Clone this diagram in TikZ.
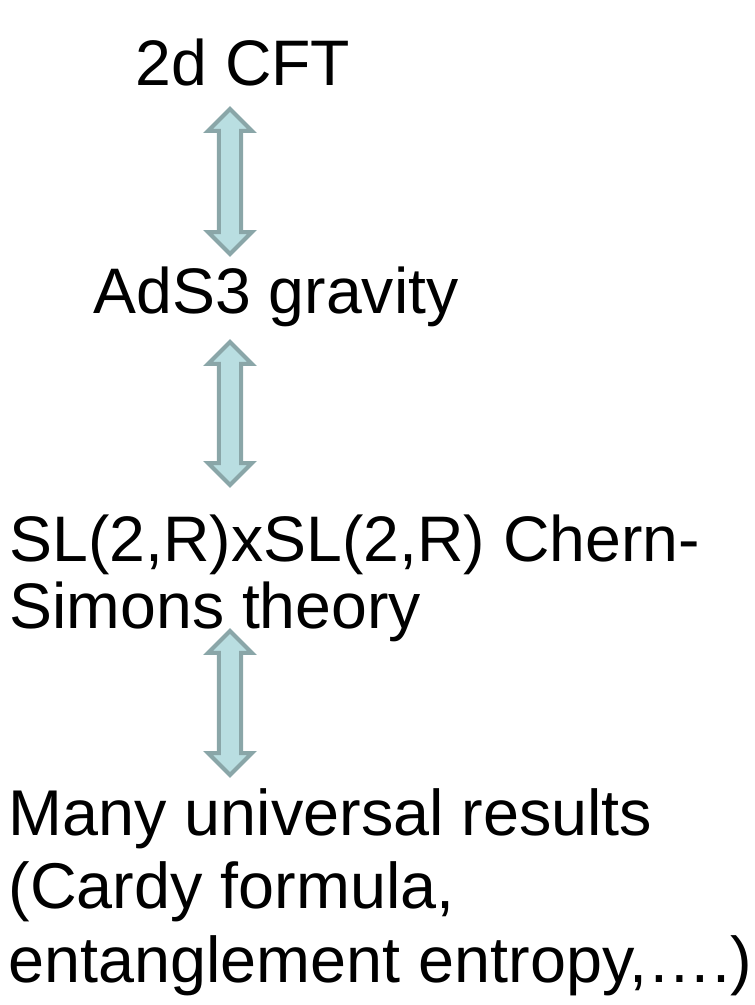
\documentclass[tikz,border=0pt]{standalone}
\usepackage{fontspec}
\setmainfont{Liberation Sans}
\usetikzlibrary{shapes.arrows}
\definecolor{arrfill}{RGB}{185,222,225}
\definecolor{arrline}{RGB}{138,166,168}
\tikzset{
  term/.style={anchor=base west, inner sep=0pt, align=left, font=\fontsize{18.3pt}{18.8pt}\selectfont},
  bigterm/.style={term, font=\fontsize{18.4pt}{20.8pt}\selectfont},
  dualarr/.style={double arrow, draw=arrline, fill=arrfill, line width=0.04cm, rotate=90, minimum width=0.4cm, double arrow head extend=0.11cm, double arrow tip angle=90, inner xsep=0pt, inner ysep=0.09cm}
}
\begin{document}
\begin{tikzpicture}[x=0.01cm, y=0.01cm]
\useasboundingbox (0,0) rectangle (755,-1005);
\node[term] (cft) at (135,-85) {2d CFT};
\node[term] (ads) at (93,-313) {AdS3 gravity};
\node[term] (cs) at (9,-628) {SL(2,R)xSL(2,R) Chern-\\Simons theory};
\node[bigterm] (res) at (8,-982) {Many universal results\\(Cardy formula,\\entanglement entropy,….)};
\node[dualarr, minimum height=1.45cm] (arrA) at (230,-181.5) {};
\node[dualarr, minimum height=1.43cm] (arrB) at (230,-413.5) {};
\node[dualarr, minimum height=1.44cm] (arrC) at (230,-703) {};
\end{tikzpicture}
\end{document}
